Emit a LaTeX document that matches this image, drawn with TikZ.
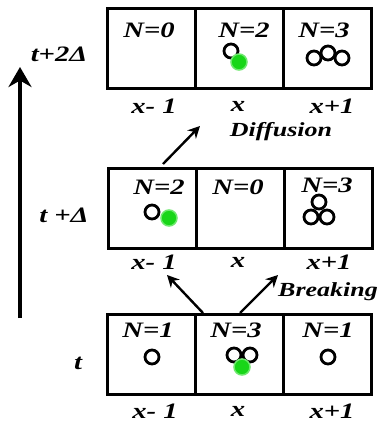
\documentclass[tikz,border=0pt]{standalone}
\usepackage{fontspec}
\setmainfont{Liberation Serif}[FakeStretch=1.3]
\usetikzlibrary{arrows.meta}
\definecolor{dotgreen}{RGB}{24,214,24}
\definecolor{halogreen}{RGB}{110,232,110}

\begin{document}
\begin{tikzpicture}[x=1pt,y=-1pt,
  txt/.style={font=\fontsize{22}{26}\selectfont\bfseries\itshape,inner sep=0pt},
  steplbl/.style={font=\fontsize{20}{24}\selectfont\bfseries\itshape,inner sep=0pt},
  cell/.style={draw,line width=3pt,minimum width=88pt,minimum height=80pt,inner sep=0pt},
  particle/.style={circle,draw,line width=2.8pt,minimum size=14pt,inner sep=0pt},
  tagged/.style={circle,fill=dotgreen,draw=halogreen,line width=1.5pt,minimum size=16pt,inner sep=0pt},
  move/.style={line width=2.4pt,-{Stealth[length=12pt,width=12pt]}},
  timeaxis/.style={line width=4.5pt,-{Stealth[length=20pt,width=23pt]}}]

\useasboundingbox (0,0) rectangle (379,422);

% === rows of cells ===
\def\yTop{49}
\def\yMid{208}
\def\yBot{354.5}

\node[cell] (topL) at (151,\yTop) {};
\node[cell] (topM) at (239,\yTop) {};
\node[cell] (topR) at (327.5,\yTop) {};

\node[cell] (midL) at (152,\yMid) {};
\node[cell] (midM) at (240,\yMid) {};
\node[cell] (midR) at (328.5,\yMid) {};

\node[cell] (botL) at (151,\yBot) {};
\node[cell] (botM) at (239,\yBot) {};
\node[cell] (botR) at (327,\yBot) {};

% Occupation numbers
\node[txt] (nTopL) at (149,30) {N=0};
\node[txt] (nTopM) at (244,30) {N=2};
\node[txt] (nTopR) at (324,30) {N=3};
\node[txt] (nMidL) at (159,187) {N=2};
\node[txt] (nMidM) at (238,187) {N=0};
\node[txt] (nMidR) at (327,185) {N=3};
\node[txt] (nBotL) at (148,330) {N=1};
\node[txt] (nBotM) at (236,330) {N=3};
\node[txt] (nBotR) at (328,330) {N=1};

% Site labels
\node[txt] (sTopL) at (154,106) {x- 1};
\node[txt] (sTopM) at (238,106) {x};
\node[txt] (sTopR) at (332,106) {x+1};
\node[txt] (sMidL) at (154,262) {x- 1};
\node[txt] (sMidM) at (238,262) {x};
\node[txt] (sMidR) at (329,262) {x+1};
\node[txt] (sBotL) at (155,411) {x- 1};
\node[txt] (sBotM) at (238,411) {x};
\node[txt] (sBotR) at (332,411) {x+1};

% Time labels
\node[txt] (tTop) at (59,54) {t+2Δ};
\node[txt] (tMid) at (64,215) {t +Δ};
\node[txt] (tBot) at (78,363) {t};

% === particles, row t+2Delta ===
\node[particle] (pA) at (231,51) {};
\node[tagged] (gA) at (239,62) {};
\node[particle] (pB) at (314,58) {};
\node[particle] (pC) at (328,53) {};
\node[particle] (pD) at (342,58) {};

% === particles, row t+Delta ===
\node[particle] (pE) at (152,212) {};
\node[tagged] (gB) at (169,218) {};
\node[particle] (pF) at (319,202) {};
\node[particle] (pG) at (311,217) {};
\node[particle] (pH) at (327,217) {};

% === particles, row t ===
\node[particle] (pI) at (152,357) {};
\node[particle] (pJ) at (234,355) {};
\node[particle] (pK) at (250,355) {};
\node[tagged] (gC) at (242,367) {};
\node[particle] (pL) at (328,357) {};

% === transitions ===
\coordinate (difFrom) at (163,164);
\coordinate (difTo) at (200,126);
\coordinate (brkFrom) at (203,313);
\coordinate (brkLeft) at (167,275);
\coordinate (brkStart) at (240,313);
\coordinate (brkRight) at (278,275);

\draw[move] (difFrom) -- (difTo);
\draw[move] (brkFrom) -- (brkLeft);
\draw[move] (brkStart) -- (brkRight);

\node[steplbl] (lblDif) at (281,132) {Diffusion};
\node[steplbl,anchor=west] (lblBrk) at (278,292) {Breaking};

% === time axis ===
\coordinate (axisFrom) at (20,318);
\coordinate (axisTo) at (20,67);
\draw[timeaxis] (axisFrom) -- (axisTo);

\end{tikzpicture}
\end{document}
